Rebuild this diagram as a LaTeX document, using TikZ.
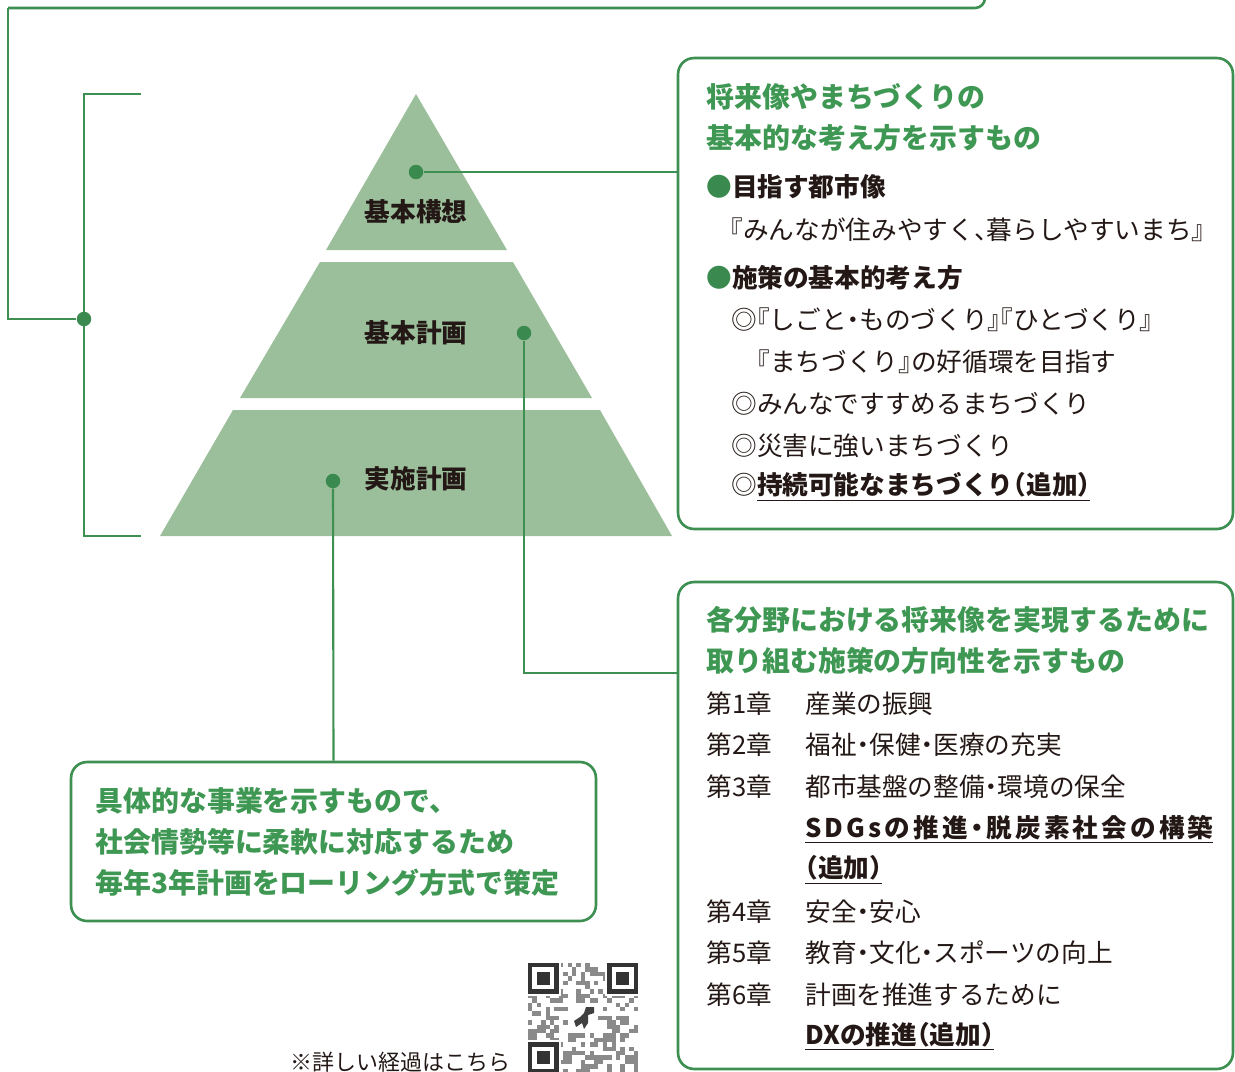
\documentclass[tikz,border=0pt]{standalone}
\usepackage{fontspec}
\setmainfont{Noto Sans CJK JP}[RawFeature={+halt}]

\definecolor{lineg}{HTML}{3D8F52}
\definecolor{dotg}{HTML}{3A8A4F}
\definecolor{tierg}{HTML}{9BBE9B}
\definecolor{headg}{HTML}{3E9752}
\definecolor{ink}{HTML}{231815}
\definecolor{qrgray}{HTML}{8A8A8A}

\begin{document}
\begin{tikzpicture}[x=0.02cm, y=-0.02cm,
    link/.style={draw=lineg, line width=1.2pt},
    dot/.style={circle, fill=dotg, inner sep=0pt, minimum size=0.29cm},
    panel/.style={draw=lineg, line width=1.5pt, rounded corners=0.32cm, inner sep=0pt},
    tierlabel/.style={font=\bfseries\fontsize{14.6}{17}\selectfont, text=ink},
    head/.style={anchor=west, inner sep=0pt, text=headg, font=\bfseries\fontsize{15.9}{18}\selectfont},
    body/.style={anchor=west, inner sep=0pt, text=ink, font=\fontsize{14.6}{17}\selectfont},
    added/.style={body, font=\bfseries\fontsize{14.6}{17}\selectfont}]
    \useasboundingbox (0,0) rectangle (1235,1072);

    % Draw the pyramid
    \fill[tierg] (416,94) -- (507,250) -- (326,250) -- cycle;
    \fill[tierg] (320,262) -- (513,262) -- (592,398) -- (240,398) -- cycle;
    \fill[tierg] (233,410) -- (600,410) -- (672,536) -- (160,536) -- cycle;
    \node[tierlabel] (kousou) at (416,212) {基本構想};
    \node[tierlabel] (keikaku) at (416,333) {基本計画};
    \node[tierlabel] (jisshi) at (416,479) {実施計画};

    % Draw the panels
    \node[panel, minimum width=11.1cm, minimum height=9.42cm] (kousoubox) at (955.5,293.5) {};
    \node[panel, minimum width=11.1cm, minimum height=9.74cm] (keikakubox) at (955.5,825.5) {};
    \node[panel, minimum width=10.5cm, minimum height=3.18cm] (jisshibox) at (333.5,841.5) {};

    % Draw the dots and connectors
    \node[dot] (d1) at (416,172) {};
    \node[dot] (d2) at (524,333) {};
    \node[dot] (d3) at (333,481) {};
    \coordinate (k2) at (0,673);
    \draw[link] (d1) -- (d1 -| kousoubox.west);
    \draw[link] (d2) |- (keikakubox.west |- k2);
    \draw[link] (d3) -- (jisshibox.north);

    % Draw the bracket and the link to the panel above
    \draw[link] (141,94) -| (84,536) -- (141,536);
    \node[dot] (bd) at (84,319) {};
    \coordinate (tl) at (8,8);
    \coordinate (up) at (985,-30);
    \draw[link] (bd) -| (tl);
    \draw[link, line width=1.5pt, rounded corners=0.2cm] (tl) -- (up |- tl) -- (up);

    % Texts of the upper panel
    \node[head] (t1) at (706,97) {将来像やまちづくりの};
    \node[head] (t2) at (706,138) {基本的な考え方を示すもの};
    \node[added] (aim) at (706,187) {{\color{dotg}●}目指す都市像};
    \node[body] (aimtext) at (730,230) {『みんなが住みやすく、暮らしやすいまち』};
    \node[added] (policy) at (706,278) {{\color{dotg}●}施策の基本的考え方};
    \node[body] (p1) at (731,320) {◎『しごと・ものづくり』『ひとづくり』};
    \node[body] (p1b) at (757,362) {『まちづくり』の好循環を目指す};
    \node[body] (p2) at (731,404) {◎みんなですすめるまちづくり};
    \node[body] (p3) at (731,446) {◎災害に強いまちづくり};
    \node[body] (p4) at (731,487) {◎\underline{\bfseries 持続可能なまちづくり（追加）}};

    % Texts of the middle panel
    \node[head] (t3) at (706,620) {各分野における将来像を実現するために};
    \node[head] (t4) at (706,661) {取り組む施策の方向性を示すもの};
    \foreach \yy/\no/\what in {704/1/産業の振興, 745/2/福祉・保健・医療の充実,
        787/3/都市基盤の整備・環境の保全, 912/4/安全・安心,
        953/5/教育・文化・スポーツの向上, 995/6/計画を推進するために}{
        \node[body] (ch\no) at (706,\yy) {第\no{}章};
        \node[body] (goal\no) at (805,\yy) {\what};
    }
    \node[added] (sdgs) at (805,829) {\underline{\addfontfeature{LetterSpace=12}SDGsの推進・脱炭素社会の構築}};
    \node[added] (sdgsadd) at (805,870) {\underline{（追加）}};
    \node[added] (dx) at (805,1036) {\underline{DXの推進（追加）}};

    % Texts of the lower panel
    \node[head] (j1) at (95,801) {具体的な事業を示すもので、};
    \node[head] (j2) at (95,842) {社会情勢等に柔軟に対応するため};
    \node[head] (j3) at (95,883) {毎年3年計画をローリング方式で策定};

    % Note and QR code
    \node[body, font=\fontsize{12.5}{15}\selectfont] (more) at (290,1062) {※詳しい経過はこちら};
    \pgfmathsetseed{17}
    \begin{scope}[shift={(528,963)}]
        \foreach \i in {0,...,24}{
            \foreach \j in {0,...,24}{
                \pgfmathtruncatemacro\bit{rnd<0.45 ? 1 : 0}
                \ifnum\bit=1 \fill[qrgray] (\i*4.4,\j*4.4) rectangle ++(4.4,4.4); \fi
            }
        }
        \foreach \fx/\fy in {0/0, 18/0, 0/18}{
            \fill[white] (\fx*4.4-2,\fy*4.4-2) rectangle ++(34.8,34.8);
            \fill[black!80] (\fx*4.4,\fy*4.4) rectangle ++(30.8,30.8);
            \fill[white] (\fx*4.4+4.4,\fy*4.4+4.4) rectangle ++(22,22);
            \fill[black!80] (\fx*4.4+8.8,\fy*4.4+8.8) rectangle ++(13.2,13.2);
        }
        \fill[white] (40,40) rectangle ++(30,30);
        \fill[black!75] (58,44) -- (66,44) -- (66,50) -- (60,52) -- (60,60) -- (56,66) -- (54,60)
            -- (48,64) -- (46,58) -- (52,54) -- (56,50) -- cycle;
    \end{scope}
\end{tikzpicture}
\end{document}
